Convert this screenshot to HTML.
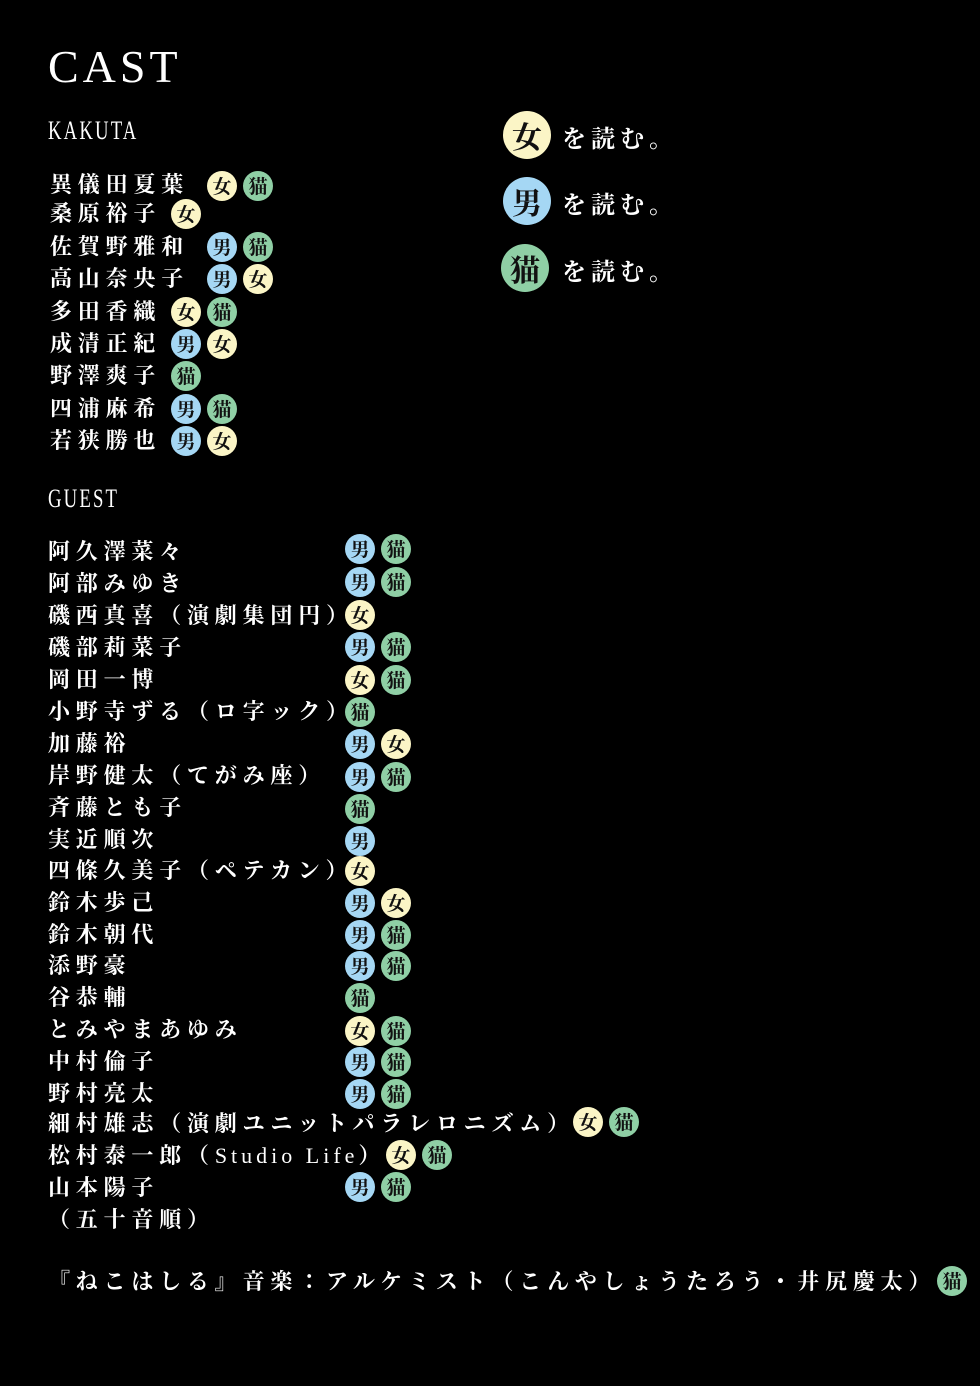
<!DOCTYPE html>
<html><head><meta charset="utf-8"><style>
body{margin:0;background:#000;width:980px;height:1386px;position:relative;overflow:hidden;color:#fff;font-family:"Liberation Serif","Noto Serif CJK JP","Noto Serif CJK SC",serif}
.t{position:absolute;font-size:22px;letter-spacing:5.8px;line-height:32px;height:32px;white-space:nowrap;font-weight:bold}
.b{position:absolute;width:30px;height:30px;border-radius:50%;color:#111;font-size:19px;line-height:30px;text-align:center;font-family:"Noto Serif CJK JP","Noto Serif CJK SC",serif;font-weight:bold}
.f{background:#fbf5c6}.m{background:#a5d7f4}.c{background:#8fcfa5}
.L{position:absolute;width:48px;height:48px;border-radius:50%;color:#111;font-size:30px;line-height:48px;text-align:center;font-family:"Noto Serif CJK JP",serif;font-weight:bold}
.lt{position:absolute;font-size:24px;letter-spacing:5px;line-height:30px;font-family:"Noto Serif CJK JP",serif;font-weight:bold}
.h{position:absolute;font-family:"Liberation Serif",serif;font-size:26px;transform:scaleX(0.72);transform-origin:left;letter-spacing:3px}
</style></head><body>
<div style="position:absolute;left:48px;top:40px;font-size:46px;letter-spacing:4px;font-family:'Liberation Serif',serif">CAST</div>
<div class="h" style="left:48px;top:116px">KAKUTA</div>
<div class="h" style="left:48px;top:484px">GUEST</div>

<div class="L f" style="left:503px;top:111px">女</div><div class="lt" style="left:562px;top:122px">を読む。</div>
<div class="L m" style="left:503px;top:177px">男</div><div class="lt" style="left:562px;top:188px">を読む。</div>
<div class="L c" style="left:501px;top:244px">猫</div><div class="lt" style="left:562px;top:255px">を読む。</div>

<div class="t" style="left:50px;top:169px">異儀田夏葉</div><div class="b f" style="left:207px;top:171px">女</div><div class="b c" style="left:243px;top:171px">猫</div>
<div class="t" style="left:50px;top:198px">桑原裕子</div><div class="b f" style="left:171px;top:199px">女</div>
<div class="t" style="left:50px;top:231px">佐賀野雅和</div><div class="b m" style="left:207px;top:232px">男</div><div class="b c" style="left:243px;top:232px">猫</div>
<div class="t" style="left:50px;top:263px">高山奈央子</div><div class="b m" style="left:207px;top:264px">男</div><div class="b f" style="left:243px;top:264px">女</div>
<div class="t" style="left:50px;top:296px">多田香織</div><div class="b f" style="left:171px;top:297px">女</div><div class="b c" style="left:207px;top:297px">猫</div>
<div class="t" style="left:50px;top:328px">成清正紀</div><div class="b m" style="left:171px;top:329px">男</div><div class="b f" style="left:207px;top:329px">女</div>
<div class="t" style="left:50px;top:360px">野澤爽子</div><div class="b c" style="left:171px;top:361px">猫</div>
<div class="t" style="left:50px;top:393px">四浦麻希</div><div class="b m" style="left:171px;top:394px">男</div><div class="b c" style="left:207px;top:394px">猫</div>
<div class="t" style="left:50px;top:425px">若狭勝也</div><div class="b m" style="left:171px;top:426px">男</div><div class="b f" style="left:207px;top:426px">女</div>

<div class="t" style="left:48px;top:536px">阿久澤菜々</div><div class="b m" style="left:345px;top:534px">男</div><div class="b c" style="left:381px;top:534px">猫</div>
<div class="t" style="left:48px;top:568px">阿部みゆき</div><div class="b m" style="left:345px;top:567px">男</div><div class="b c" style="left:381px;top:567px">猫</div>
<div class="t" style="left:48px;top:600px">磯西真喜（演劇集団円）</div><div class="b f" style="left:345px;top:600px">女</div>
<div class="t" style="left:48px;top:632px">磯部莉菜子</div><div class="b m" style="left:345px;top:632px">男</div><div class="b c" style="left:381px;top:632px">猫</div>
<div class="t" style="left:48px;top:664px">岡田一博</div><div class="b f" style="left:345px;top:665px">女</div><div class="b c" style="left:381px;top:665px">猫</div>
<div class="t" style="left:48px;top:696px">小野寺ずる（ロ字ック）</div><div class="b c" style="left:345px;top:697px">猫</div>
<div class="t" style="left:48px;top:728px">加藤裕</div><div class="b m" style="left:345px;top:729px">男</div><div class="b f" style="left:381px;top:729px">女</div>
<div class="t" style="left:48px;top:760px">岸野健太（てがみ座）</div><div class="b m" style="left:345px;top:762px">男</div><div class="b c" style="left:381px;top:762px">猫</div>
<div class="t" style="left:48px;top:792px">斉藤とも子</div><div class="b c" style="left:345px;top:794px">猫</div>
<div class="t" style="left:48px;top:824px">実近順次</div><div class="b m" style="left:345px;top:826px">男</div>
<div class="t" style="left:48px;top:855px">四條久美子（ペテカン）</div><div class="b f" style="left:345px;top:856px">女</div>
<div class="t" style="left:48px;top:887px">鈴木歩己</div><div class="b m" style="left:345px;top:888px">男</div><div class="b f" style="left:381px;top:888px">女</div>
<div class="t" style="left:48px;top:919px">鈴木朝代</div><div class="b m" style="left:345px;top:920px">男</div><div class="b c" style="left:381px;top:920px">猫</div>
<div class="t" style="left:48px;top:950px">添野豪</div><div class="b m" style="left:345px;top:951px">男</div><div class="b c" style="left:381px;top:951px">猫</div>
<div class="t" style="left:48px;top:982px">谷恭輔</div><div class="b c" style="left:345px;top:983px">猫</div>
<div class="t" style="left:48px;top:1014px">とみやまあゆみ</div><div class="b f" style="left:345px;top:1016px">女</div><div class="b c" style="left:381px;top:1016px">猫</div>
<div class="t" style="left:48px;top:1046px">中村倫子</div><div class="b m" style="left:345px;top:1047px">男</div><div class="b c" style="left:381px;top:1047px">猫</div>
<div class="t" style="left:48px;top:1078px">野村亮太</div><div class="b m" style="left:345px;top:1079px">男</div><div class="b c" style="left:381px;top:1079px">猫</div>
<div class="t" style="left:48px;top:1108px">細村雄志（演劇ユニットパラレロニズム）</div><div class="b f" style="left:573px;top:1107px">女</div><div class="b c" style="left:609px;top:1107px">猫</div>
<div class="t" style="left:48px;top:1140px">松村泰一郎（<span style="letter-spacing:4px;font-weight:normal">Studio Life</span>）</div><div class="b f" style="left:386px;top:1140px">女</div><div class="b c" style="left:422px;top:1140px">猫</div>
<div class="t" style="left:48px;top:1172px">山本陽子</div><div class="b m" style="left:345px;top:1172px">男</div><div class="b c" style="left:381px;top:1172px">猫</div>
<div class="t" style="left:48px;top:1204px">（五十音順）</div>
<div class="t" style="left:48px;top:1266px;letter-spacing:5.8px">『ねこはしる』音楽：アルケミスト（こんやしょうたろう・井尻慶太）</div><div class="b c" style="left:937px;top:1266px">猫</div>
</body></html>
